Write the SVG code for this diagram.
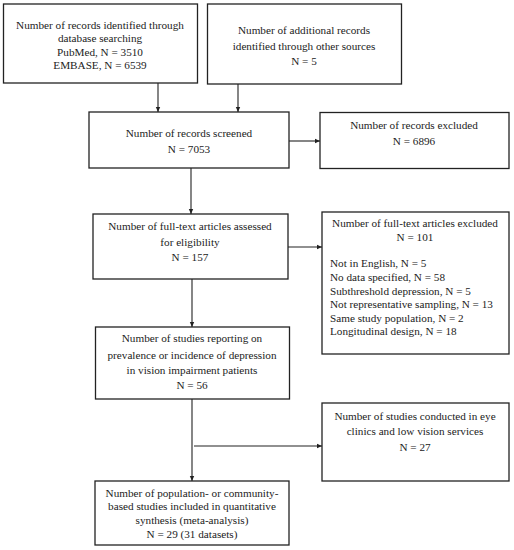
<svg xmlns="http://www.w3.org/2000/svg" width="514" height="550" viewBox="0 0 514 550">
<style>
.box{fill:#fff;stroke:#222;stroke-width:1.3}
text{font-family:"Liberation Serif","Times New Roman",serif;font-size:11.2px;fill:#222}
.c{text-anchor:middle}
.ln{stroke:#222;stroke-width:1.1;fill:none}
</style>
<defs>
<marker id="ah" markerWidth="6" markerHeight="6" refX="5" refY="3" orient="auto" markerUnits="userSpaceOnUse">
<path d="M0,0.8 L5,3 L0,5.2 Z" fill="#222"/>
</marker>
</defs>
<rect width="514" height="550" fill="#fff"/>
<g id="connectors">
<line class="ln" x1="158" y1="83" x2="158" y2="112" marker-end="url(#ah)"/>
<line class="ln" x1="238" y1="84" x2="238" y2="112" marker-end="url(#ah)"/>
<line class="ln" x1="289" y1="141" x2="320" y2="141" marker-end="url(#ah)"/>
<line class="ln" x1="191" y1="168" x2="191" y2="214" marker-end="url(#ah)"/>
<line class="ln" x1="288" y1="247" x2="322" y2="247" marker-end="url(#ah)"/>
<line class="ln" x1="192" y1="279" x2="192" y2="327" marker-end="url(#ah)"/>
<line class="ln" x1="194" y1="446" x2="322" y2="446" marker-end="url(#ah)"/>
<line class="ln" x1="192" y1="399" x2="192" y2="481" marker-end="url(#ah)"/>
</g>
<g id="n1">
<rect class="box" x="3.5" y="4" width="194" height="79"/>
<text class="c" x="100" y="29">Number of records identified through</text>
<text class="c" x="100" y="42">database searching</text>
<text class="c" x="100" y="56">PubMed, N = 3510</text>
<text class="c" x="100" y="69">EMBASE,  N = 6539</text>
</g>
<g id="n2">
<rect class="box" x="207.5" y="4" width="194" height="80"/>
<text class="c" x="304" y="34">Number of additional records</text>
<text class="c" x="304" y="50">identified through other sources</text>
<text class="c" x="304" y="65">N = 5</text>
</g>
<g id="n3">
<rect class="box" x="89" y="112" width="200" height="56"/>
<text class="c" x="189" y="137">Number of records screened</text>
<text class="c" x="189" y="153">N = 7053</text>
</g>
<g id="n4">
<rect class="box" x="320" y="112.5" width="189" height="56"/>
<text class="c" x="414" y="129">Number of records excluded</text>
<text class="c" x="414" y="145">N = 6896</text>
</g>
<g id="n5">
<rect class="box" x="93" y="214" width="195" height="65"/>
<text class="c" x="190" y="230">Number of full-text articles assessed</text>
<text class="c" x="190" y="246">for eligibility</text>
<text class="c" x="190" y="261">N = 157</text>
</g>
<g id="n6">
<rect class="box" x="322" y="212" width="187" height="142"/>
<text class="c" x="415" y="227">Number of full-text articles excluded</text>
<text class="c" x="415" y="241">N = 101</text>
<text x="330" y="267">Not in English, N = 5</text>
<text x="330" y="281">No data specified, N = 58</text>
<text x="330" y="295">Subthreshold depression, N = 5</text>
<text x="330" y="308">Not representative sampling, N = 13</text>
<text x="330" y="322">Same study population, N = 2</text>
<text x="330" y="335">Longitudinal design, N = 18</text>
</g>
<g id="n7">
<rect class="box" x="95.5" y="327" width="194" height="72"/>
<text class="c" x="192" y="342">Number of studies reporting on</text>
<text class="c" x="192" y="359">prevalence or incidence of depression</text>
<text class="c" x="192" y="374">in vision impairment patients</text>
<text class="c" x="192" y="389">N = 56</text>
</g>
<g id="n8">
<rect class="box" x="322" y="403" width="187" height="78"/>
<text class="c" x="415" y="420">Number of studies conducted in eye</text>
<text class="c" x="415" y="435">clinics and low vision services</text>
<text class="c" x="415" y="451">N = 27</text>
</g>
<g id="n9">
<rect class="box" x="95" y="481" width="194" height="64"/>
<text class="c" x="192" y="497">Number of population- or community-</text>
<text class="c" x="192" y="510">based studies included in quantitative</text>
<text class="c" x="192" y="524">synthesis (meta-analysis)</text>
<text class="c" x="192" y="538">N = 29 (31 datasets)</text>
</g>
</svg>
